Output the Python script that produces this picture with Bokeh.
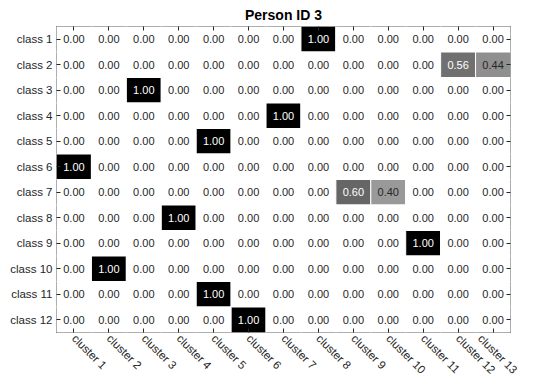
import math
import pandas as pd
from bokeh.plotting import figure
from bokeh.models import (ColumnDataSource, LinearColorMapper, FactorRange,
                          CategoricalAxis, Title)
from bokeh.palettes import Greys256
from bokeh.core.properties import value
from bokeh.embed import file_html
from bokeh.resources import INLINE

classes = [f"class {i}" for i in range(1, 13)]
clusters = [f"cluster {j}" for j in range(1, 14)]

# rows = classes, columns = clusters
matrix = [
    [0, 0, 0, 0, 0, 0, 0, 1.00, 0, 0, 0, 0, 0],
    [0, 0, 0, 0, 0, 0, 0, 0, 0, 0, 0, 0.56, 0.44],
    [0, 0, 1.00, 0, 0, 0, 0, 0, 0, 0, 0, 0, 0],
    [0, 0, 0, 0, 0, 0, 1.00, 0, 0, 0, 0, 0, 0],
    [0, 0, 0, 0, 1.00, 0, 0, 0, 0, 0, 0, 0, 0],
    [1.00, 0, 0, 0, 0, 0, 0, 0, 0, 0, 0, 0, 0],
    [0, 0, 0, 0, 0, 0, 0, 0, 0.60, 0.40, 0, 0, 0],
    [0, 0, 0, 1.00, 0, 0, 0, 0, 0, 0, 0, 0, 0],
    [0, 0, 0, 0, 0, 0, 0, 0, 0, 0, 1.00, 0, 0],
    [0, 1.00, 0, 0, 0, 0, 0, 0, 0, 0, 0, 0, 0],
    [0, 0, 0, 0, 1.00, 0, 0, 0, 0, 0, 0, 0, 0],
    [0, 0, 0, 0, 0, 1.00, 0, 0, 0, 0, 0, 0, 0],
]

rows = []
for i, c in enumerate(classes):
    for j, k in enumerate(clusters):
        v = matrix[i][j]
        rows.append(dict(cls=c, clu=k, val=v, label=f"{v:.2f}",
                         tcolor="white" if v > 0.5 else "#262626"))
df = pd.DataFrame(rows)
src = ColumnDataSource(df)

FONT = "Liberation Sans"
DARK = "#262626"

p = figure(frame_width=454, frame_height=306, output_backend="svg",
           toolbar_location=None,
           x_range=FactorRange(factors=clusters),
           y_range=FactorRange(factors=list(reversed(classes))),
           min_border_left=56, min_border_right=9, min_border_top=26,
           min_border_bottom=10)
p.title = Title(text="Person ID 3", align="center", text_font=FONT,
                text_font_size="14px", text_font_style="bold",
                text_color="black", standoff=7, offset=0)

mapper = LinearColorMapper(palette=list(reversed(Greys256)), low=0, high=1)
p.rect(x="clu", y="cls", width=1, height=1, source=src,
       fill_color={"field": "val", "transform": mapper},
       line_color="white", line_width=1)
p.text(x="clu", y="cls", text="label", source=src, text_align="center",
       text_baseline="middle", text_font=value(FONT),
       text_font_size="11px", text_color="tcolor")

p.grid.visible = False
p.outline_line_color = DARK
p.outline_line_width = 1
p.outline_line_alpha = 1
p.background_fill_color = "white"
p.border_fill_color = "white"

for ax in [p.xaxis[0], p.yaxis[0]]:
    ax.axis_line_color = None
    ax.major_tick_in = 4
    ax.major_tick_out = 0
    ax.major_tick_line_color = DARK
    ax.minor_tick_line_color = None
    ax.major_label_text_font = FONT
    ax.major_label_text_font_size = "11.5px"
    ax.major_label_text_color = DARK
    ax.major_label_standoff = 4

p.xaxis[0].major_label_orientation = -math.pi / 4

for side in ["right", "above"]:
    ax = CategoricalAxis()
    ax.axis_line_color = None
    ax.major_tick_in = 4
    ax.major_tick_out = 0
    ax.major_tick_line_color = DARK
    ax.minor_tick_line_color = None
    ax.major_label_text_font_size = "0px"
    ax.major_label_text_alpha = 0
    ax.major_label_standoff = 0
    p.add_layout(ax, side)

open("out.html", "w").write(file_html(p, INLINE))
